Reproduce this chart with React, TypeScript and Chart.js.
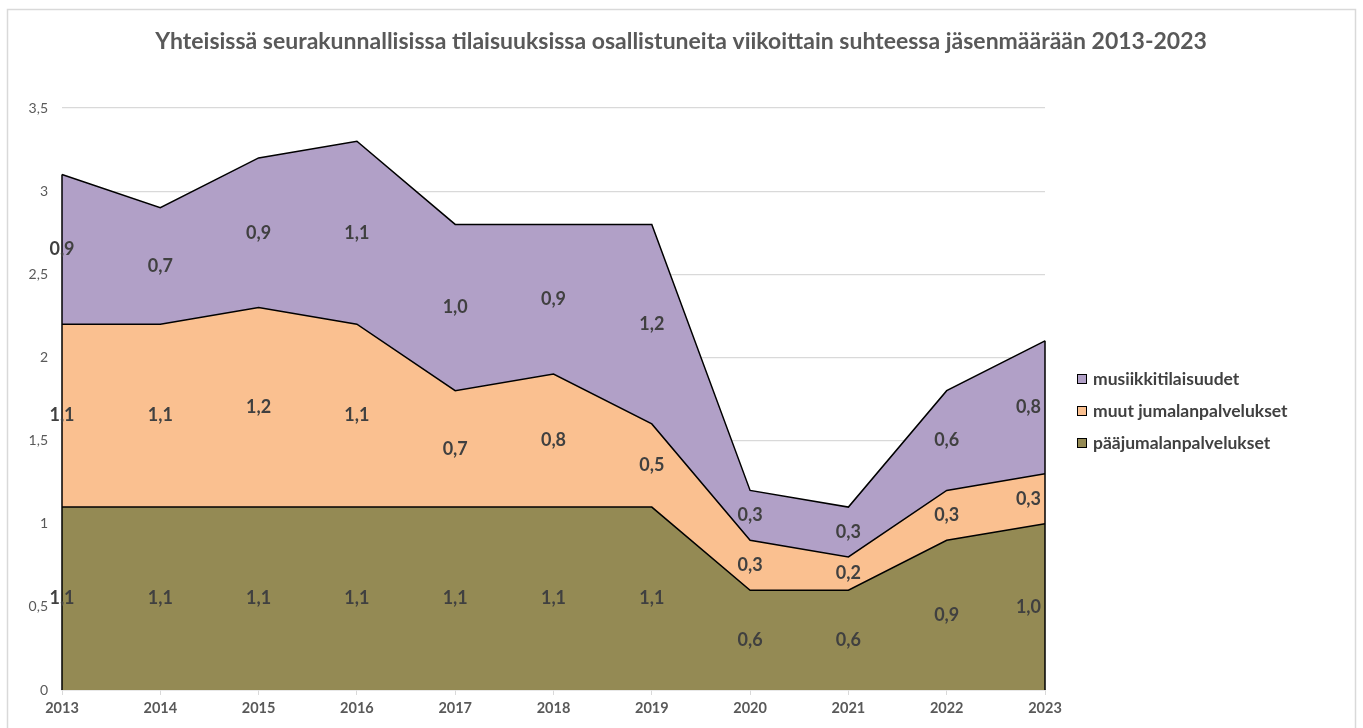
import React, { useEffect, useRef } from "react";
import { Chart, registerables } from "chart.js";

Chart.register(...registerables);

const TITLE = "Yhteisissä seurakunnallisissa tilaisuuksissa osallistuneita viikoittain suhteessa jäsenmäärään 2013-2023";
const years = ["2013", "2014", "2015", "2016", "2017", "2018", "2019", "2020", "2021", "2022", "2023"];
const paajumalanpalvelukset = [1.1, 1.1, 1.1, 1.1, 1.1, 1.1, 1.1, 0.6, 0.6, 0.9, 1.0];
const muutJumalanpalvelukset = [1.1, 1.1, 1.2, 1.1, 0.7, 0.8, 0.5, 0.3, 0.2, 0.3, 0.3];
const musiikkitilaisuudet = [0.9, 0.7, 0.9, 1.1, 1.0, 0.9, 1.2, 0.3, 0.3, 0.6, 0.8];
const seriesNames = ["pääjumalanpalvelukset", "muut jumalanpalvelukset", "musiikkitilaisuudet"];
const seriesColors = ["#948A54", "#FAC090", "#B1A0C7"];

const FONT = "Lato, 'Open Sans', sans-serif";

const fmt = (v: number) => v.toFixed(1).replace(".", ",");

const decorPlugin = {
  id: "decor",
  beforeDraw(chart: any) {
    const { ctx, width, height } = chart;
    ctx.save();
    ctx.fillStyle = "#fff";
    ctx.fillRect(0, 0, width, height);
    ctx.strokeStyle = "#D9D9D9";
    ctx.lineWidth = 1.5;
    ctx.strokeRect(7.5, 9.5, 1348, height + 10);
    // title
    ctx.fillStyle = "#595959";
    ctx.font = `bold 23px ${FONT}`;
    ctx.textAlign = "center";
    ctx.textBaseline = "middle";
    ctx.fillText(TITLE, 681, 42);
    ctx.restore();
  },
  afterDatasetsDraw(chart: any) {
    const { ctx, chartArea } = chart;
    const x = chart.scales.x;
    const y = chart.scales.y;
    const n = years.length;
    const totals = years.map((_, i) =>
      chart.data.datasets.reduce((s: number, d: any) => s + d.data[i], 0)
    );
    ctx.save();
    ctx.strokeStyle = "#000";
    ctx.lineWidth = 1.5;
    [0, n - 1].forEach((i) => {
      const px = x.getPixelForValue(i);
      ctx.beginPath();
      ctx.moveTo(px, y.getPixelForValue(0));
      ctx.lineTo(px, y.getPixelForValue(totals[i]));
      ctx.stroke();
    });
    // data labels
    ctx.font = `bold 18px ${FONT}`;
    ctx.fillStyle = "#404040";
    ctx.textAlign = "center";
    ctx.textBaseline = "middle";
    const base = years.map(() => 0);
    chart.data.datasets.forEach((d: any) => {
      d.data.forEach((v: number, i: number) => {
        const mid = base[i] + v / 2;
        base[i] += v;
        const txt = fmt(v);
        const w = ctx.measureText(txt).width;
        let px = x.getPixelForValue(i);
        px = Math.min(px, chartArea.right - w / 2 - 4);
        ctx.fillText(txt, px, y.getPixelForValue(mid));
      });
    });
    // legend
    const legendY = [379, 411, 443];
    ctx.font = `bold 17.5px ${FONT}`;
    ctx.textAlign = "left";
    [2, 1, 0].forEach((si, k) => {
      const cy = legendY[k];
      ctx.fillStyle = seriesColors[si];
      ctx.fillRect(1077, cy - 5, 10, 10);
      ctx.strokeStyle = "#000";
      ctx.lineWidth = 1;
      ctx.strokeRect(1077.5, cy - 4.5, 9, 9);
      ctx.fillStyle = "#404040";
      ctx.fillText(seriesNames[si], 1093, cy);
    });
    ctx.restore();
  },
};

export default function App() {
  const ref = useRef<HTMLCanvasElement>(null);
  useEffect(() => {
    const seriesData = [paajumalanpalvelukset, muutJumalanpalvelukset, musiikkitilaisuudet];
    const chart = new Chart(ref.current!, {
      type: "line",
      data: {
        labels: years,
        datasets: seriesData.map((d, i) => ({
          label: seriesNames[i],
          data: d,
          backgroundColor: seriesColors[i],
          borderColor: "#000",
          borderWidth: 1.5,
          pointRadius: 0,
          tension: 0,
          fill: i === 0 ? "origin" : "-1",
        })),
      },
      options: {
        animation: false,
        responsive: false,
        devicePixelRatio: 1,
        layout: { padding: { top: 108, bottom: 10, left: 14, right: 318 } },
        plugins: {
          legend: { display: false },
          title: { display: false },
          tooltip: { enabled: false },
        },
        scales: {
          x: {
            offset: false,
            grid: {
              display: true,
              drawOnChartArea: false,
              drawTicks: true,
              tickLength: 5,
              color: "#D9D9D9",
            },
            border: { display: true, color: "#D9D9D9", width: 1.5 },
            ticks: {
              color: "#595959",
              font: { family: FONT, size: 14.5, weight: "bold" },
              padding: 5,
              maxRotation: 0,
              autoSkip: false,
            },
            afterFit: (s: any) => {
              s.height = 28;
            },
          },
          y: {
            stacked: true,
            min: 0,
            max: 3.5,
            grid: { color: "#D9D9D9", lineWidth: 1.2, drawTicks: false },
            border: { display: false },
            ticks: {
              stepSize: 0.5,
              color: "#595959",
              font: { family: FONT, size: 14 },
              padding: 14,
              callback: (v: any) => String(v).replace(".", ","),
            },
            afterFit: (s: any) => {
              s.width = 48;
            },
          },
        },
      },
      plugins: [decorPlugin],
    });
    return () => chart.destroy();
  }, []);
  return (
    <div style={{ position: "fixed", left: 0, top: 0, width: 1363, height: 728, background: "#fff" }}>
      <canvas ref={ref} width={1363} height={728} style={{ width: 1363, height: 728, display: "block" }} />
    </div>
  );
}
